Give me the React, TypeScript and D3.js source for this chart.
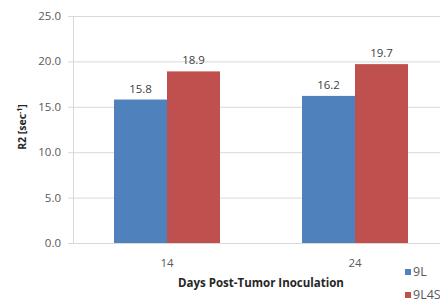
import { useEffect, useRef } from 'react';
import * as d3 from 'd3';

const categories = ["14", "24"];
const seriesNames = ["9L", "9L4S"];
const seriesColors = ["#4F81BD", "#C0504D"];
const values9L = [15.8, 16.2];
const values9L4S = [18.9, 19.7];
const yTicks = [0, 5, 10, 15, 20, 25];

export default function App() {
  const svgRef = useRef<SVGSVGElement>(null);

  useEffect(() => {
    if (!svgRef.current) return;
    const svg = d3.select(svgRef.current);
    svg.selectAll("*").remove();

    const font = "'Open Sans', sans-serif";
    const left = 73;
    const top = 16;
    const bottom = 243;
    const right = 449;

    const x = d3.scaleBand().domain(categories).range([left, right]);
    const x1 = d3.scaleBand().domain(seriesNames).range([0, 106]);
    const y = d3.scaleLinear().domain([0, 25]).range([bottom, top]);

    svg.append("rect").attr("width", 440).attr("height", 301).attr("fill", "#fff");

    // gridlines
    svg.append("g")
      .selectAll("line")
      .data(yTicks)
      .enter()
      .append("line")
      .attr("x1", left - 5)
      .attr("x2", right)
      .attr("y1", d => y(d) + 0.5)
      .attr("y2", d => y(d) + 0.5)
      .attr("stroke", "#D9D9D9")
      .attr("stroke-width", 1);

    // y axis line
    svg.append("line")
      .attr("x1", left + 0.5).attr("x2", left + 0.5)
      .attr("y1", top).attr("y2", bottom)
      .attr("stroke", "#D9D9D9");

    // y tick labels
    svg.append("g")
      .selectAll("text")
      .data(yTicks)
      .enter()
      .append("text")
      .attr("x", left - 12)
      .attr("y", d => y(d) + 4)
      .attr("text-anchor", "end")
      .attr("font-family", font)
      .attr("font-size", 11.5)
      .attr("fill", "#595959")
      .text(d => d.toFixed(1));

    const series = [values9L, values9L4S];
    const bars = categories.flatMap((c, i) =>
      seriesNames.map((s, j) => ({ c, s, v: series[j][i], color: seriesColors[j] }))
    );

    const groupOffset = (x.bandwidth() - 106) / 2;

    svg.append("g")
      .selectAll("rect")
      .data(bars)
      .enter()
      .append("rect")
      .attr("x", d => (x(d.c) as number) + groupOffset + (x1(d.s) as number))
      .attr("y", d => y(d.v))
      .attr("width", x1.bandwidth())
      .attr("height", d => bottom - y(d.v))
      .attr("fill", d => d.color);

    // value labels
    svg.append("g")
      .selectAll("text")
      .data(bars)
      .enter()
      .append("text")
      .attr("x", d => (x(d.c) as number) + groupOffset + (x1(d.s) as number) + x1.bandwidth() / 2)
      .attr("y", d => y(d.v) - 7)
      .attr("text-anchor", "middle")
      .attr("font-family", font)
      .attr("font-size", 11.5)
      .attr("fill", "#404040")
      .text(d => d.v.toFixed(1));

    // category labels
    svg.append("g")
      .selectAll("text")
      .data(categories)
      .enter()
      .append("text")
      .attr("x", d => (x(d) as number) + x.bandwidth() / 2)
      .attr("y", 267)
      .attr("text-anchor", "middle")
      .attr("font-family", font)
      .attr("font-size", 11.5)
      .attr("fill", "#595959")
      .text(d => d);

    // x axis title
    svg.append("text")
      .attr("x", 261)
      .attr("y", 287)
      .attr("text-anchor", "middle")
      .attr("font-family", font)
      .attr("font-size", 11.5)
      .attr("font-weight", "bold")
      .attr("fill", "#262626")
      .text("Days Post-Tumor Inoculation");

    // y axis title
    const yt = svg.append("text")
      .attr("transform", "translate(26,127) rotate(-90)")
      .attr("text-anchor", "middle")
      .attr("font-family", font)
      .attr("font-size", 10.5)
      .attr("font-weight", "bold")
      .attr("fill", "#262626");
    yt.append("tspan").text("R2 [sec");
    yt.append("tspan").attr("font-size", 7).attr("dy", -4).text("-1");
    yt.append("tspan").attr("dy", 4).text("]");

    // legend
    const legend = svg.append("g")
      .selectAll("g")
      .data(seriesNames)
      .enter()
      .append("g")
      .attr("transform", (d, i) => `translate(405,${269 + i * 23})`);
    legend.append("rect")
      .attr("width", 6)
      .attr("height", 6)
      .attr("fill", (d, i) => seriesColors[i]);
    legend.append("text")
      .attr("x", 8)
      .attr("y", 7)
      .attr("font-family", font)
      .attr("font-size", 12.5)
      .attr("fill", "#595959")
      .text(d => d);
  }, []);

  return (
    <svg
      ref={svgRef}
      width={440}
      height={301}
      style={{ position: "absolute", left: 0, top: 0, display: "block" }}
    />
  );
}
